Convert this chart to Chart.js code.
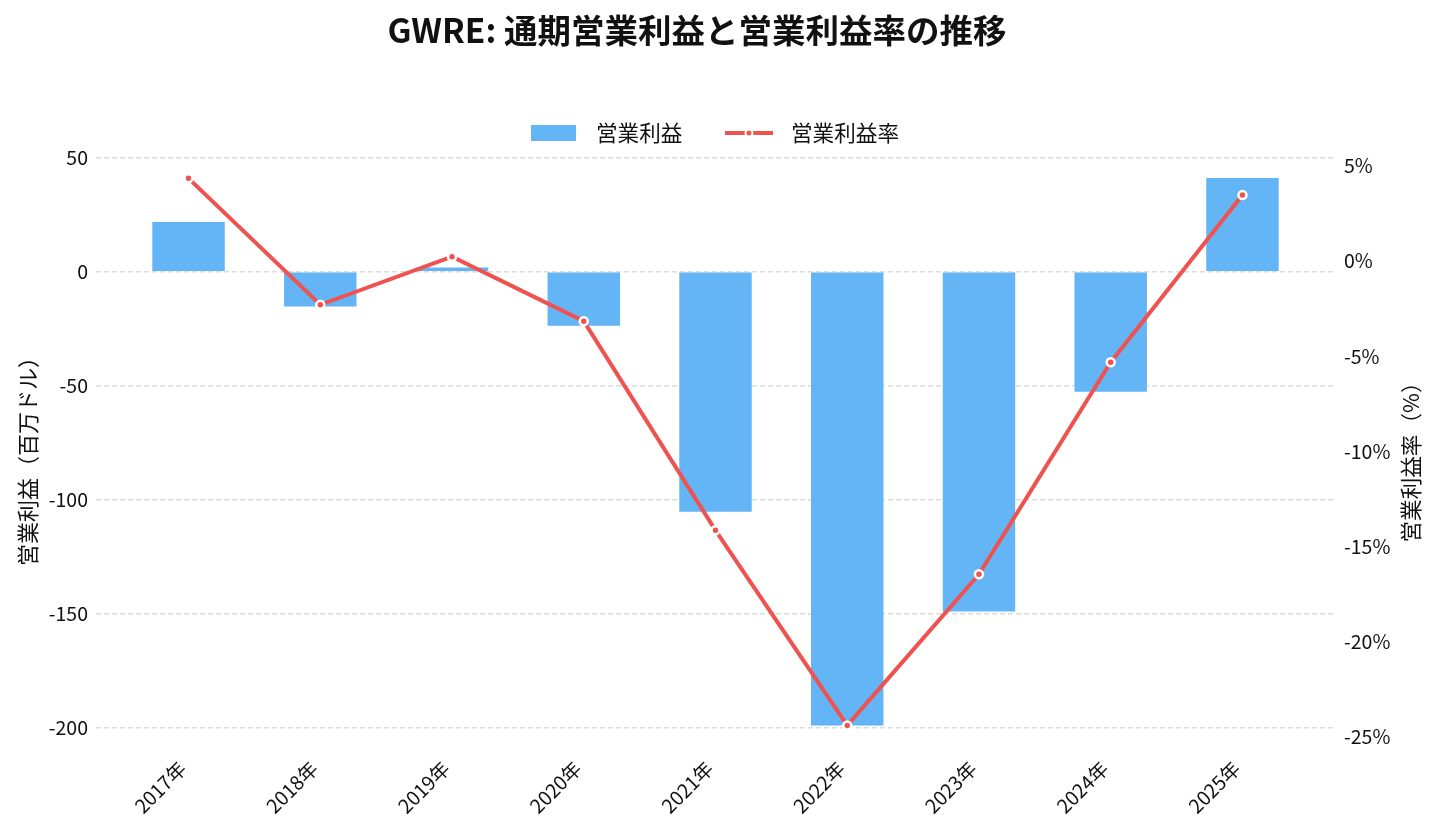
<!DOCTYPE html>
<html><head><meta charset="utf-8">
<script src="https://cdn.jsdelivr.net/npm/chart.js@4.4.0/dist/chart.umd.min.js"></script>
<style>html,body{margin:0;padding:0;background:#fff}#wrap{width:1439px;height:838px;position:relative}</style>
</head><body><div id="wrap"><canvas id="c"></canvas></div>
<script>
const TITLE = 'GWRE: 通期営業利益と営業利益率の推移';
const years = ['2017年','2018年','2019年','2020年','2021年','2022年','2023年','2024年','2025年'];
const operatingIncome = [21.9, -15.2, 1.9, -23.7, -105.3, -199.1, -149.1, -52.6, 41.2];
const operatingMargin = [4.35, -2.30, 0.23, -3.16, -14.16, -24.42, -16.47, -5.32, 3.47];
const leftTicks = [50, 0, -50, -100, -150, -200];
const rightTicks = [5, 0, -5, -10, -15, -20, -25];
const barLabel = '営業利益';
const lineLabel = '営業利益率';
const leftTitle = '営業利益（百万ドル）';
const rightTitle = '営業利益率（%）';

const BAR_COLOR = '#64B5F6';
const LINE_COLOR = '#EF5350';
const TEXT = '#111111';
const FONT = "'Noto Sans CJK JP', 'Noto Sans', sans-serif";

const decor = {
  id: 'decor',
  afterDraw(chart) {
    const ctx = chart.ctx;
    ctx.save();
    ctx.fillStyle = TEXT;
    ctx.textBaseline = 'middle';
    ctx.textAlign = 'center';
    ctx.font = "bold 33.5px " + FONT;
    ctx.fillText(TITLE, 697, 30);
    // legend
    ctx.fillStyle = BAR_COLOR;
    ctx.fillRect(531, 125, 45, 16);
    ctx.font = "21.6px " + FONT;
    ctx.fillStyle = TEXT;
    ctx.textAlign = 'left';
    ctx.fillText(barLabel, 596, 133);
    ctx.strokeStyle = LINE_COLOR;
    ctx.lineWidth = 4;
    ctx.beginPath(); ctx.moveTo(725, 133); ctx.lineTo(773, 133); ctx.stroke();
    ctx.beginPath(); ctx.arc(749, 133, 3.5, 0, Math.PI * 2);
    ctx.fillStyle = LINE_COLOR; ctx.fill();
    ctx.lineWidth = 2; ctx.strokeStyle = '#ffffff'; ctx.stroke();
    ctx.fillStyle = TEXT;
    ctx.fillText(lineLabel, 791, 133);
    // axis titles
    ctx.textAlign = 'center';
    ctx.font = "22px " + FONT;
    ctx.save();
    ctx.translate(28, 456); ctx.rotate(-Math.PI / 2);
    ctx.fillText(leftTitle, 0, 0);
    ctx.restore();
    ctx.font = "21.6px " + FONT;
    ctx.save();
    ctx.translate(1411, 457); ctx.rotate(-Math.PI / 2);
    ctx.fillText(rightTitle, 0, 0);
    ctx.restore();
    ctx.restore();
  }
};

new Chart(document.getElementById('c'), {
  type: 'bar',
  data: {
    datasets: [
      {
        type: 'line',
        label: lineLabel,
        data: operatingMargin.map((v, i) => ({ x: i, y: v })),
        yAxisID: 'y2',
        xAxisID: 'x',
        borderColor: LINE_COLOR,
        backgroundColor: LINE_COLOR,
        borderWidth: 4,
        pointRadius: 4,
        pointBorderWidth: 2.5,
        pointBorderColor: '#ffffff',
        pointBackgroundColor: LINE_COLOR,
        tension: 0,
        order: 0
      },
      {
        type: 'bar',
        label: barLabel,
        data: operatingIncome.map((v, i) => ({ x: i, y: v })),
        yAxisID: 'y',
        xAxisID: 'x',
        backgroundColor: BAR_COLOR,
        borderWidth: 0,
        categoryPercentage: 1,
        barPercentage: 0.55,
        order: 1
      }
    ]
  },
  options: {
    responsive: true,
    maintainAspectRatio: false,
    animation: false,
    layout: { padding: { top: 150.6, left: 0, right: 0, bottom: 0 } },
    plugins: { legend: { display: false }, title: { display: false }, tooltip: { enabled: false } },
    scales: {
      x: {
        type: 'linear',
        position: 'bottom',
        offset: false,
        min: -0.7025,
        max: 8.7025,
        grid: { display: false, drawTicks: false, offset: false },
        border: { display: false },
        afterBuildTicks: (s) => { s.ticks = years.map((_, i) => ({ value: i })); },
        afterFit: (s) => { s.height = 85.2; s.paddingLeft = 0; s.paddingRight = 0; },
        ticks: {
          autoSkip: false,
          minRotation: 45,
          maxRotation: 45,
          padding: 4,
          labelOffset: -6,
          color: TEXT,
          font: { family: FONT, size: 19.5 },
          callback: (v) => years[Math.round(v)]
        }
      },
      y: {
        type: 'linear',
        position: 'left',
        min: -211.1,
        max: 53.2,
        grid: { color: '#dcdcdc', lineWidth: 1.4, drawTicks: false },
        border: { display: false, dash: [5, 3] },
        afterBuildTicks: (s) => { s.ticks = leftTicks.map(v => ({ value: v })); },
        afterFit: (s) => { s.width = 96; s.paddingTop = 0; s.paddingBottom = 0; },
        ticks: { padding: 8, color: TEXT, font: { family: FONT, size: 19.5 } }
      },
      y2: {
        type: 'linear',
        position: 'right',
        min: -25.86,
        max: 5.81,
        grid: { display: false, drawTicks: false },
        border: { display: false },
        afterBuildTicks: (s) => { s.ticks = rightTicks.map(v => ({ value: v })); },
        afterFit: (s) => { s.width = 104; s.paddingTop = 0; s.paddingBottom = 0; },
        ticks: { padding: 9, color: TEXT, font: { family: FONT, size: 19.5 }, callback: (v) => v + '%' }
      }
    }
  },
  plugins: [decor]
});
</script>
</body></html>
